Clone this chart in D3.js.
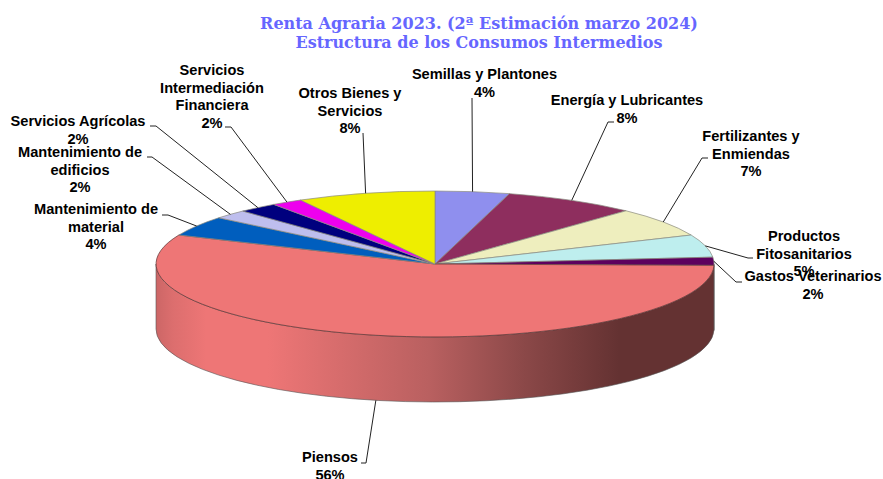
<!DOCTYPE html>
<html><head><meta charset="utf-8">
<script src="https://cdn.jsdelivr.net/npm/d3@7/dist/d3.min.js"></script>
<style>html,body{margin:0;padding:0;background:#fff;overflow:hidden}svg{display:block}</style>
</head><body><svg id="c" width="883" height="479"></svg>
<script>
const categories=["Semillas y Plantones","Energía y Lubricantes","Fertilizantes y Enmiendas","Productos Fitosanitarios","Gastos Veterinarios","Piensos","Mantenimiento de material","Mantenimiento de edificios","Servicios Agrícolas","Servicios Intermediación Financiera","Otros Bienes y Servicios"];
const values=[4.3,7.7,6.5,5.0,1.8,56.2,4.4,2.0,2.3,1.8,8.0];
const colors=["#8f8fee","#8e2e5e","#eeeebe","#beeeee","#5e005e","#ee7676","#005ebe","#bebeee","#00007e","#ee00ee","#eeee00"];
const labelLines=[["Semillas y Plantones"],["Energía y Lubricantes"],["Fertilizantes y","Enmiendas"],["Productos","Fitosanitarios"],["Gastos Veterinarios"],["Piensos"],["Mantenimiento de","material"],["Mantenimiento de","edificios"],["Servicios Agrícolas"],["Servicios","Intermediación","Financiera"],["Otros Bienes y","Servicios"]];
const titleLines=["Renta Agraria 2023. (2ª Estimación marzo 2024)","Estructura de los Consumos Intermedios"];
// label layout: text centre x, first baseline y, leader start, leader elbow
const layout=[
 {x:484.5,y:79,lead:[[472,98]]},
 {x:627,y:105,lead:[[614,122],[608,122]]},
 {x:751,y:141,lead:[[708,158],[702,158]]},
 {x:804,y:241,lead:[[753,258],[748,258]]},
 {x:813,y:281,lead:[[742,282],[736,282]]},
 {x:330,y:462,lead:[[361,463],[366,463]],wall:true},
 {x:96,y:214,lead:[[162,215],[168,215]]},
 {x:80,y:157,lead:[[147,157],[152,157]]},
 {x:78,y:126,lead:[[150,126],[156,126]]},
 {x:212,y:75,lead:[[225,127],[231,127]]},
 {x:350,y:98,lead:[[363,133]]}
];
const cx=435,cy=264,rx=279,ry=73,depth=65,lineH=17.5;
const svg=d3.select("#c");
const sx=d3.scaleLinear().domain([-1,1]).range([cx-rx,cx+rx]);
const sy=d3.scaleLinear().domain([-1,1]).range([cy-ry,cy+ry]);
const pie=d3.pie().sort(null).value(d=>d)(values);
const px=a=>sx(Math.sin(a)), py=a=>sy(-Math.cos(a));

const defs=svg.append("defs");
const grad=defs.append("linearGradient").attr("id","wall").attr("gradientUnits","userSpaceOnUse")
 .attr("x1",cx-rx).attr("x2",cx+rx).attr("y1",0).attr("y2",0);
[[0,"#cc6666"],[0.03,"#dc6e6e"],[0.09,"#ee7676"],[0.2,"#ee7676"],[0.49,"#b96060"],[0.66,"#8b4848"],[0.83,"#643232"],[1,"#643232"]]
 .forEach(s=>grad.append("stop").attr("offset",s[0]).attr("stop-color",s[1]));

// side wall, for the part of each slice on the near half of the ellipse
const HALF=Math.PI/2;
const wall=svg.append("g");
pie.forEach((p,i)=>{
  const a0=Math.max(p.startAngle,HALF), a1=Math.min(p.endAngle,3*HALF);
  if(a1<=a0) return;
  const d=`M${px(a0)},${py(a0)}A${rx},${ry} 0 0 1 ${px(a1)},${py(a1)}L${px(a1)},${py(a1)+depth}A${rx},${ry} 0 0 0 ${px(a0)},${py(a0)+depth}Z`;
  wall.append("path").attr("d",d)
    .attr("fill",i===5?"url(#wall)":colors[i])
    .attr("stroke","#555").attr("stroke-width",0.6);
});

// top face: unit arc scaled to the ellipse
const arc=d3.arc().innerRadius(0).outerRadius(1);
svg.append("g").attr("transform",`translate(${cx},${cy}) scale(${rx},${ry})`)
 .selectAll("path").data(pie).join("path")
 .attr("d",arc).attr("fill",(d,i)=>colors[i])
 .attr("stroke",(d,i)=>i===5?"#5a3030":"#8a8a80").attr("stroke-width",0.7)
 .attr("vector-effect","non-scaling-stroke");

// leaders
const line=d3.line();
svg.append("g").selectAll("path").data(pie).join("path")
 .attr("fill","none").attr("stroke","#222").attr("stroke-width",1)
 .attr("d",(p,i)=>{
   const m=(p.startAngle+p.endAngle)/2;
   return line([...layout[i].lead,[px(m),py(m)+(layout[i].wall?depth:0)]]);
 });

// labels
const lab=svg.append("g").attr("font-family","'Liberation Sans',Arial,sans-serif").attr("font-weight","bold").attr("font-size",14.6).attr("fill","#000").attr("text-anchor","middle");
categories.forEach((c,i)=>{
  const t=lab.append("text").attr("x",layout[i].x).attr("y",layout[i].y);
  const lines=[...labelLines[i],d3.format(".0f")(Math.round(values[i]))+"%"];
  lines.forEach((l,j)=>t.append("tspan").attr("x",layout[i].x).attr("dy",j?lineH:0).text(l));
});

// title
svg.append("g").attr("font-family","'DejaVu Serif',serif").attr("font-weight","bold").attr("font-size",16).attr("fill","#6666ff").attr("text-anchor","middle")
 .selectAll("text").data(titleLines).join("text")
 .attr("x",479).attr("y",(d,i)=>28.5+i*19.5).text(d=>d);
</script></body></html>
